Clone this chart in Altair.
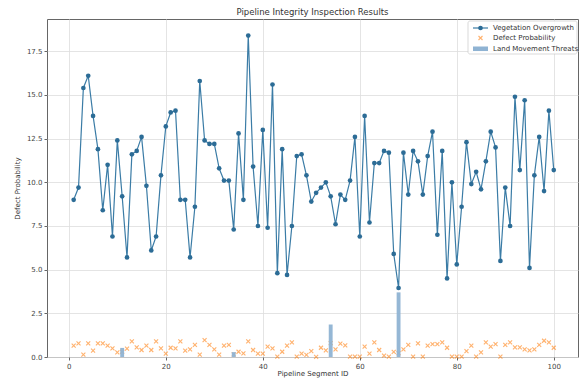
import altair as alt
import pandas as pd

# Pipeline segments inspected
segments = list(range(1, 101))

# Vegetation overgrowth score per segment
vegetation = [
    9.0, 9.7, 15.4, 16.1, 13.8, 11.9, 8.4, 11.0, 6.9, 12.4,
    9.2, 5.7, 11.6, 11.8, 12.6, 9.8, 6.1, 6.9, 10.4, 13.2,
    14.0, 14.1, 9.0, 9.0, 5.7, 8.6, 15.8, 12.4, 12.2, 12.2,
    10.8, 10.1, 10.1, 7.3, 12.8, 9.0, 18.4, 10.9, 7.5, 13.0,
    7.4, 15.6, 4.8, 11.9, 4.7, 7.5, 11.5, 11.6, 10.4, 8.9,
    9.4, 9.7, 10.0, 9.2, 7.6, 9.3, 9.0, 10.1, 12.6, 6.9,
    13.8, 7.7, 11.1, 11.1, 11.8, 11.7, 5.9, 3.95, 11.7, 9.3,
    11.8, 11.2, 9.3, 11.5, 12.9, 7.0, 11.8, 4.5, 10.0, 5.3,
    8.6, 12.3, 9.9, 10.6, 9.6, 11.2, 12.9, 12.0, 5.5, 9.7,
    7.5, 14.9, 10.7, 14.7, 5.1, 10.4, 12.6, 9.5, 14.1, 10.7,
]

# Defect probability per segment
defect = [
    0.65, 0.78, 0.13, 0.78, 0.36, 0.78, 0.78, 0.65, 0.50, 0.27,
    0.30, 0.48, 0.90, 0.55, 0.40, 0.65, 0.40, 0.90, 0.50, 0.19,
    0.53, 0.50, 0.90, 0.36, 0.44, 0.70, 0.13, 0.97, 0.70, 0.44,
    0.13, 0.65, 0.70, 0.15, 0.30, 0.21, 0.90, 0.40, 0.19, 0.19,
    0.60, 0.50, 0.02, 0.30, 0.65, 0.84, 0.02, 0.19, 0.12, 0.34,
    0.01, 0.53, 0.38, 0.80, 0.44, 0.76, 0.66, 0.02, 0.02, 0.02,
    0.59, 0.19, 0.84, 0.40, 0.08, 0.02, 0.29, 0.22, 0.44, 0.70,
    0.02, 0.78, 0.02, 0.65, 0.74, 0.74, 0.84, 0.53, 0.02, 0.02,
    0.02, 0.34, 0.65, 0.02, 0.27, 0.84, 0.59, 0.74, 0.02, 0.69,
    0.84, 0.55, 0.55, 0.44, 0.38, 0.44, 0.70, 0.93, 0.84, 0.53,
]

# Land movement threats reported on a few segments
threat_segments = [11, 34, 54, 68]
threat_levels = [0.52, 0.28, 1.86, 3.70]

legend_labels = ["Vegetation Overgrowth", "Defect Probability", "Land Movement Threats"]

FONT = "DejaVu Sans"
LINE_COLOR = "#3b7ca6"
POINT_COLOR = "#2c6c96"
ORANGE = "#ff7f0e"
BAR_COLOR = "#8fb3d3"
X_SHAPE = "M-1,-1L1,1M-1,1L1,-1"

df = pd.DataFrame({"segment": segments, "vegetation": vegetation, "defect": defect})
bars_df = pd.DataFrame({"segment": threat_segments, "threat": threat_levels})

x_scale = alt.Scale(domain=[-4.5, 105], nice=False, zero=False)
y_scale = alt.Scale(domain=[0, 19.35], nice=False)

x_axis = alt.Axis(values=[0, 20, 40, 60, 80, 100], title="Pipeline Segment ID",
                  format="d", tickSize=3, labelPadding=2, titlePadding=0)
y_axis = alt.Axis(values=[0, 2.5, 5, 7.5, 10, 12.5, 15, 17.5], title="Defect Probability",
                  format=".1f", tickSize=3, labelPadding=2, titlePadding=6)

base = alt.Chart(df)

line = base.mark_line(color=LINE_COLOR, strokeWidth=1.2).encode(
    x=alt.X("segment:Q", scale=x_scale, axis=x_axis),
    y=alt.Y("vegetation:Q", scale=y_scale, axis=y_axis),
)

dots = base.mark_circle(color=POINT_COLOR, size=22, opacity=1).encode(
    x="segment:Q", y="vegetation:Q"
)

crosses = base.mark_point(shape=X_SHAPE, filled=False, stroke=ORANGE, strokeWidth=1.1,
                          opacity=0.6, size=16).encode(
    x="segment:Q", y="defect:Q"
)

bars = alt.Chart(bars_df).transform_calculate(
    x0="datum.segment - 0.4", x1="datum.segment + 0.4"
).mark_rect(color=BAR_COLOR, opacity=0.95).encode(
    x="x0:Q", x2="x1:Q", y=alt.Y("threat:Q"), y2=alt.datum(0)
)

# Legend drawn in the upper-right corner of the plot area
one = alt.Data(values=[{}])
leg_box = alt.Chart(one).mark_rect(fill="white", stroke="#cccccc", strokeWidth=0.8,
                                   cornerRadius=2, opacity=0.9).encode(
    x=alt.value(421), x2=alt.value(530), y=alt.value(2), y2=alt.value(35)
)
leg_line = alt.Chart(one).mark_rule(color=LINE_COLOR, strokeWidth=1.2).encode(
    x=alt.value(426), x2=alt.value(441), y=alt.value(9)
)
leg_dot = alt.Chart(one).mark_circle(color=POINT_COLOR, size=22, opacity=1).encode(
    x=alt.value(433.5), y=alt.value(9)
)
leg_cross = alt.Chart(one).mark_point(shape=X_SHAPE, filled=False, stroke=ORANGE,
                                      strokeWidth=1.1, opacity=0.6, size=16).encode(
    x=alt.value(433.5), y=alt.value(19)
)
leg_bar = alt.Chart(one).mark_rect(color=BAR_COLOR).encode(
    x=alt.value(426), x2=alt.value(441), y=alt.value(27.5), y2=alt.value(32)
)
leg_text = alt.Chart(pd.DataFrame({"label": legend_labels, "row": [9, 19, 30]})).mark_text(
    align="left", baseline="middle", font=FONT, fontSize=7, color="#333333"
).encode(
    x=alt.value(446), y=alt.Y("row:Q", scale=None), text="label:N"
)

chart = alt.layer(
    line, dots, crosses, bars, leg_box, leg_line, leg_dot, leg_cross, leg_bar, leg_text
).properties(
    width=531,
    height=338,
    autosize="none",
    padding={"left": 47, "top": 19, "right": 1, "bottom": 22},
    title=alt.TitleParams("Pipeline Integrity Inspection Results", font=FONT, fontSize=8.5,
                          fontWeight="normal", color="#333333", offset=3),
).configure_view(
    stroke="#666666", strokeWidth=1
).configure_axis(
    labelFont=FONT, titleFont=FONT, labelFontSize=7, titleFontSize=7,
    labelColor="#444444", titleColor="#333333", titleFontWeight="normal",
    gridColor="#dddddd", gridWidth=0.8, tickColor="#666666", domain=False,
)

chart.save("out.html", embed_options={"renderer": "svg", "actions": False})
